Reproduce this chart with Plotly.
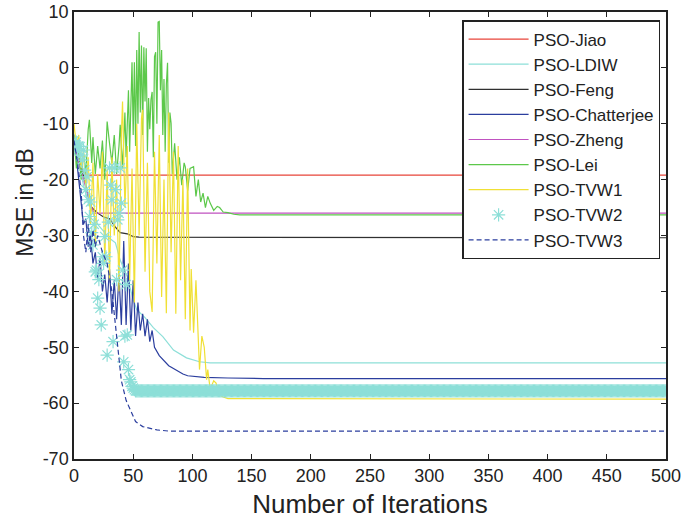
import plotly.graph_objects as go

# ---- data (iteration, MSE in dB) ----
jiao_x = [0, 3, 6, 9, 10, 500]
jiao_y = [-12.0, -15.0, -17.5, -19.0, -19.2, -19.2]

ldiw_x = [0, 4, 8, 12, 16, 20, 24, 30, 35, 39, 45, 50, 53, 60, 67, 75, 84, 95, 106, 115, 500]
ldiw_y = [-13.0, -17.0, -21.0, -24.0, -26.0, -28.0, -29.0, -30.5, -31.3, -34.4, -37.4, -41.5,
          -43.3, -44.7, -46.5, -48.1, -50.5, -51.9, -52.6, -52.8, -52.8]

feng_x = [0, 3, 6, 9, 12, 15, 20, 25, 30, 35, 39, 45, 50, 55, 500]
feng_y = [-12.0, -15.0, -18.0, -20.0, -23.0, -25.0, -26.0, -26.7, -27.0, -28.5, -29.5, -29.7,
          -30.2, -30.3, -30.4]

chat_x = [0, 2, 4, 6, 8, 10, 12, 14, 16, 18, 20, 22, 24, 26, 28, 30, 32, 34, 36, 38, 40, 42,
          44, 46, 48, 50, 52, 54, 56, 58, 60, 62, 64, 66, 68, 72, 76, 80, 84, 88, 92, 96, 100,
          110, 130, 160, 500]
chat_y = [-13, -16, -20, -24, -28, -27, -32, -30, -35, -33, -38, -34, -40, -37, -42, -36, -44,
          -38, -45, -37, -46, -31, -46, -35, -47, -38, -48, -42, -47, -44, -48, -45, -49, -47,
          -50, -51.5, -52.5, -53.3, -53.8, -54.3, -54.8, -55.1, -55.2, -55.4, -55.5, -55.6, -55.6]

zheng_x = [0, 4, 8, 12, 15, 17, 500]
zheng_y = [-13.0, -17.0, -20.0, -23.0, -25.0, -26.0, -26.0]

lei_x = [0, 2, 4, 6, 8, 10, 12, 13, 15, 16, 18, 20, 22, 24, 26, 28, 30, 32, 34, 36, 38, 39,
         41, 43, 44, 46, 47, 49, 50, 51, 52, 53, 54, 55, 56, 57, 58, 59, 60, 61, 62, 63, 64,
         65, 66, 67, 68, 69, 70, 71, 72, 73, 74, 75, 76, 77, 78, 79, 80, 81, 82, 83, 85, 87,
         89, 91, 93, 94, 96, 98, 101, 103, 105, 107, 109, 111, 113, 115, 118, 121, 123, 126,
         130, 135, 140, 500]
lei_y = [-12, -18, -14, -20, -15, -19, -11, -9.3, -17, -12.4, -19, -14, -18, -13, -20, -9.6,
         -13.5, -17, -12, -19, -14, -10.2, -18, -8, -16, -4, -15, 1, -12, 1, -14, 3.2, -10, 6.4,
         -8, 4, -12, 3.7, -6, 3.5, -15, -5.4, -11, -5.7, -4.3, -16, 2, 2.8, -10, 8.2, 8.3, -4,
         3.2, -12, -2, -15, -3, 0.9, -17, -8, -9.9, -19, -13.5, -20, -16, -21, -17, -17.7, -22,
         -18, -17.7, -23, -20, -24, -22.4, -25, -23, -24.2, -25.5, -24.8, -25, -25.8, -25.9,
         -26.2, -26.3, -26.3]

tvw1_x = [0, 2, 4, 6, 8, 10, 12, 14, 16, 18, 20, 22, 24, 26, 28, 30, 32, 34, 36, 38, 40, 41,
          43, 45, 47, 49, 51, 53, 55, 57, 58, 60, 62, 64, 66, 68, 70, 72, 74, 76, 78, 80, 82,
          84, 86, 88, 90, 92, 94, 96, 98, 99, 101, 103, 106, 108, 110, 112, 113, 115, 116, 118,
          120, 122, 126, 130, 500]
tvw1_y = [-10, -14, -12, -18, -15, -22, -16, -28, -17, -32, -19, -26, -15, -35, -18, -38, -16,
          -30, -20, -40, -12, -6, -25, -14, -38, -18, -42, -10, -30, -9, -7.5, -36.5, -17, -40,
          -43.7, -15, -35, -12, -41, -20, -43.9, -8, -33, -15, -44, -14, -38, -20, -45, -18,
          -47, -36, -47.4, -38, -54, -48, -50, -55.8, -54, -57.5, -57, -56, -56.4, -58.5,
          -58.9, -59.2, -59.3]

tvw2_early_x = list(range(0, 52))
tvw2_early_y = [-13.0, -13.6, -13.3, -14.8, -14.0, -14.1, -15.6, -16.5, -14.7, -18.3, -21.8,
                -19.5, -23.6, -26.6, -24.0, -29.5, -31.7, -28.0, -36.5, -36.2, -41.2, -37.9,
                -43.0, -46.0, -33.8, -35.0, -30.2, -33.8, -51.4, -27.6, -17.9, -21.0, -23.6,
                -49.0, -17.9, -21.8, -37.9, -27.2, -26.0, -17.9, -24.2, -36.2, -52.6, -48.0,
                -38.8, -47.8, -54.0, -55.8, -56.2, -57.0, -57.3, -57.6]
tvw2_tail_value = -57.8
tvw2_x = tvw2_early_x + list(range(52, 501))
tvw2_y = tvw2_early_y + [tvw2_tail_value] * (501 - 52)

tvw3_x = [0, 3, 6, 8, 10, 12, 14, 16, 18, 20, 24, 28, 32, 35, 37, 40, 44, 49, 52, 58, 70, 80, 500]
tvw3_y = [-13, -17, -22, -30, -33, -28, -33, -29, -32, -30, -33, -35, -40, -46, -49, -56, -59.5,
          -62, -63.3, -64.2, -64.8, -65, -65]

x_ticks = list(range(0, 501, 50))
x_tick_labels = [str(v) for v in x_ticks]
y_ticks = list(range(-70, 11, 10))
y_tick_labels = ["-70", "-60", "-50", "-40", "-30", "-20", "-10", "0", "10"]

FONT = "Liberation Sans, Arial, sans-serif"
cyan = "#8ddfd8"

fig = go.Figure()
lw = 1.2
fig.add_trace(go.Scatter(x=jiao_x, y=jiao_y, mode="lines", name="PSO-Jiao",
                         line=dict(color="#e8453a", width=lw)))
fig.add_trace(go.Scatter(x=ldiw_x, y=ldiw_y, mode="lines", name="PSO-LDIW",
                         line=dict(color=cyan, width=lw)))
fig.add_trace(go.Scatter(x=feng_x, y=feng_y, mode="lines", name="PSO-Feng",
                         line=dict(color="#303030", width=lw)))
fig.add_trace(go.Scatter(x=chat_x, y=chat_y, mode="lines", name="PSO-Chatterjee",
                         line=dict(color="#2b3e9e", width=lw)))
fig.add_trace(go.Scatter(x=zheng_x, y=zheng_y, mode="lines", name="PSO-Zheng",
                         line=dict(color="#c052c0", width=lw)))
fig.add_trace(go.Scatter(x=lei_x, y=lei_y, mode="lines", name="PSO-Lei",
                         line=dict(color="#5cc84a", width=lw)))
fig.add_trace(go.Scatter(x=tvw1_x, y=tvw1_y, mode="lines", name="PSO-TVW1",
                         line=dict(color="#f0e035", width=lw)))
fig.add_trace(go.Scatter(x=tvw2_x, y=tvw2_y, mode="markers", name="PSO-TVW2",
                         marker=dict(symbol="asterisk-open", size=11, color=cyan,
                                     line=dict(color=cyan, width=1.2))))
fig.add_trace(go.Scatter(x=tvw3_x, y=tvw3_y, mode="lines", name="PSO-TVW3",
                         line=dict(color="#2b3e9e", width=lw, dash="5px,3px")))

axis_common = dict(showgrid=False, zeroline=False, showline=True, linecolor="#222",
                   linewidth=1.5, mirror="allticks", ticks="inside", ticklen=5,
                   tickcolor="#222", tickwidth=1.2, automargin=False,
                   ticklabeloverflow="allow",
                   tickfont=dict(family=FONT, size=18, color="#222"))

fig.update_layout(
    width=684, height=520,
    margin=dict(l=74, r=18, t=12, b=61),
    paper_bgcolor="white", plot_bgcolor="white",
    font=dict(family=FONT, color="#222"),
    xaxis=dict(range=[0, 500], tickvals=x_ticks, ticktext=x_tick_labels,
               title=dict(text="Number of Iterations", font=dict(family=FONT, size=26),
                          standoff=9),
               **axis_common),
    yaxis=dict(range=[-70, 10], tickvals=y_ticks, ticktext=y_tick_labels,
               **axis_common),
    legend=dict(x=0.99, y=0.982, xanchor="right", yanchor="top",
                bgcolor="white", bordercolor="#222", borderwidth=1.5,
                font=dict(family=FONT, size=17, color="#222"),
                tracegroupgap=0, itemwidth=60),
    annotations=[dict(text="MSE in dB", xref="paper", yref="y", x=-0.083, y=-24,
                      xanchor="center", yanchor="middle", textangle=-90, showarrow=False,
                      font=dict(family=FONT, size=23, color="#222"))],
    showlegend=True,
)

# remove the page's default body margin so the 684x520 figure fills the window exactly
fig.write_html("out.html",
               config={"displayModeBar": False},
               post_script="document.body.style.margin='0px';document.body.style.overflow='hidden';")
